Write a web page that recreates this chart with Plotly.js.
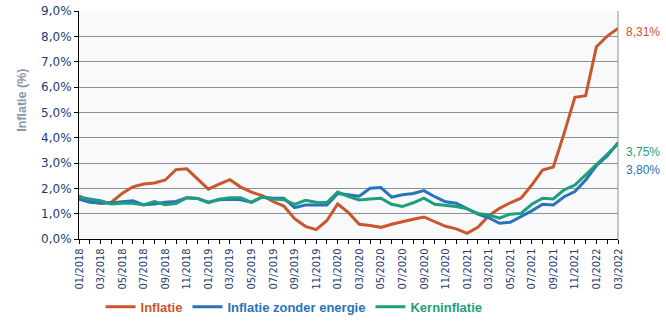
<!DOCTYPE html>
<html>
<head>
<meta charset="utf-8">
<script src="https://cdn.plot.ly/plotly-3.0.1.min.js"></script>
<style>html,body{margin:0;padding:0;background:#fff;}#chart{width:666px;height:323px;}</style>
</head>
<body>
<div id="chart"></div>
<script>
const months = ["01/2018","02/2018","03/2018","04/2018","05/2018","06/2018","07/2018","08/2018","09/2018","10/2018","11/2018","12/2018",
"01/2019","02/2019","03/2019","04/2019","05/2019","06/2019","07/2019","08/2019","09/2019","10/2019","11/2019","12/2019",
"01/2020","02/2020","03/2020","04/2020","05/2020","06/2020","07/2020","08/2020","09/2020","10/2020","11/2020","12/2020",
"01/2021","02/2021","03/2021","04/2021","05/2021","06/2021","07/2021","08/2021","09/2021","10/2021","11/2021","12/2021",
"01/2022","02/2022","03/2022"];

const inflatie = [1.7,1.5,1.4,1.45,1.8,2.06,2.17,2.21,2.33,2.74,2.77,2.35,
1.97,2.17,2.34,2.05,1.85,1.71,1.48,1.3,0.8,0.5,0.37,0.73,
1.38,1.04,0.58,0.53,0.46,0.58,0.69,0.78,0.87,0.69,0.5,0.4,
0.22,0.46,0.91,1.21,1.43,1.61,2.13,2.72,2.84,4.17,5.59,5.66,
7.59,8.01,8.31];

const zonderEnergie = [1.57,1.45,1.42,1.42,1.47,1.51,1.35,1.38,1.45,1.48,1.63,1.6,
1.45,1.55,1.57,1.55,1.45,1.66,1.61,1.61,1.24,1.34,1.34,1.34,
1.8,1.74,1.69,2.0,2.03,1.65,1.75,1.8,1.91,1.67,1.47,1.41,
1.21,0.98,0.84,0.62,0.66,0.88,1.11,1.37,1.34,1.67,1.87,2.33,
2.9,3.28,3.8];

const kerninflatie = [1.65,1.57,1.51,1.38,1.41,1.41,1.34,1.48,1.35,1.4,1.63,1.6,
1.43,1.57,1.63,1.63,1.45,1.66,1.58,1.55,1.37,1.53,1.45,1.44,
1.85,1.67,1.54,1.58,1.61,1.37,1.28,1.43,1.61,1.37,1.32,1.28,
1.19,1.01,0.95,0.82,0.98,1.01,1.37,1.61,1.58,1.94,2.13,2.53,
2.96,3.32,3.75];

const seriesNames = ["Inflatie","Inflatie zonder energie","Kerninflatie"];
const seriesColors = ["#C9572B","#2A73BA","#1E9E7A"];
const yTickVals = [0,1,2,3,4,5,6,7,8,9];
const yTickLabels = ["0,0%","1,0%","2,0%","3,0%","4,0%","5,0%","6,0%","7,0%","8,0%","9,0%"];
const xTickLabels = months.map((m,i)=> i%2===0 ? m : "");

const data = [inflatie, zonderEnergie, kerninflatie].map((vals,i)=>({
  type:'scatter', mode:'lines', x:months, y:vals,
  name:'<b><span style="color:'+seriesColors[i]+'">'+seriesNames[i]+'</span></b>',
  line:{color:seriesColors[i], width:3},
  hoverinfo:'skip'
}));

function fmt(v){return v.toFixed(2).replace('.',',')+'%';}
const lastIdx = months.length-1;
const labelShift = [-4, -27, -8];

const annotations = [inflatie, zonderEnergie, kerninflatie].map((vals,i)=>({
  x: months[lastIdx], y: vals[lastIdx], xref:'x', yref:'y',
  text: fmt(vals[lastIdx]), showarrow:false, xanchor:'left', xshift:6,
  yshift: labelShift[i],
  font:{family:'Liberation Sans, Arial, sans-serif', size:12, color:seriesColors[i]}
}));
annotations.push({
  xref:'paper', yref:'paper', x:-0.106, xanchor:'center', y:0.61, yanchor:'middle',
  text:'<b>Inflatie (%)</b>', textangle:-90,
  showarrow:false, font:{family:'Liberation Sans, Arial, sans-serif', size:12.5, color:'#8A95A8'}
});

const layout = {
  width:666, height:323,
  margin:{l:79, r:48, t:11, b:84},
  paper_bgcolor:'#ffffff', plot_bgcolor:'#F7F9FB',
  showlegend:true,
  legend:{orientation:'h', xref:'container', yref:'container', x:0.151, xanchor:'left', y:0.05, yanchor:'middle',
    font:{family:'Liberation Sans, Arial, sans-serif', size:13}, itemwidth:30, tracegroupgap:0},
  xaxis:{type:'category', tickvals:months, ticktext:xTickLabels, tickangle:-90, automargin:false,
    ticks:'outside', ticklen:4, tickcolor:'#000', showline:true, linecolor:'#000', linewidth:1,
    showgrid:false, zeroline:false, range:[0,lastIdx],
    tickfont:{family:'DejaVu Sans Condensed, Liberation Sans, sans-serif', size:11, color:'#1F3B73'}},
  yaxis:{range:[0,9], tickvals:yTickVals, ticktext:yTickLabels, ticks:'outside', ticklen:4, tickcolor:'#000',
    automargin:false,
    showline:true, linecolor:'#000', linewidth:1, showgrid:true, gridcolor:'#8F8F8F', gridwidth:1, zeroline:false,
    tickfont:{family:'DejaVu Sans, Verdana, sans-serif', size:12, color:'#1F3B73'}},
  shapes:[{type:'line', xref:'paper', yref:'paper', x0:1, x1:1, y0:0, y1:1, line:{color:'#8F8F8F', width:1}}],
  annotations:annotations
};

Plotly.newPlot('chart', data, layout, {displayModeBar:false, staticPlot:true});
</script>
</body>
</html>
